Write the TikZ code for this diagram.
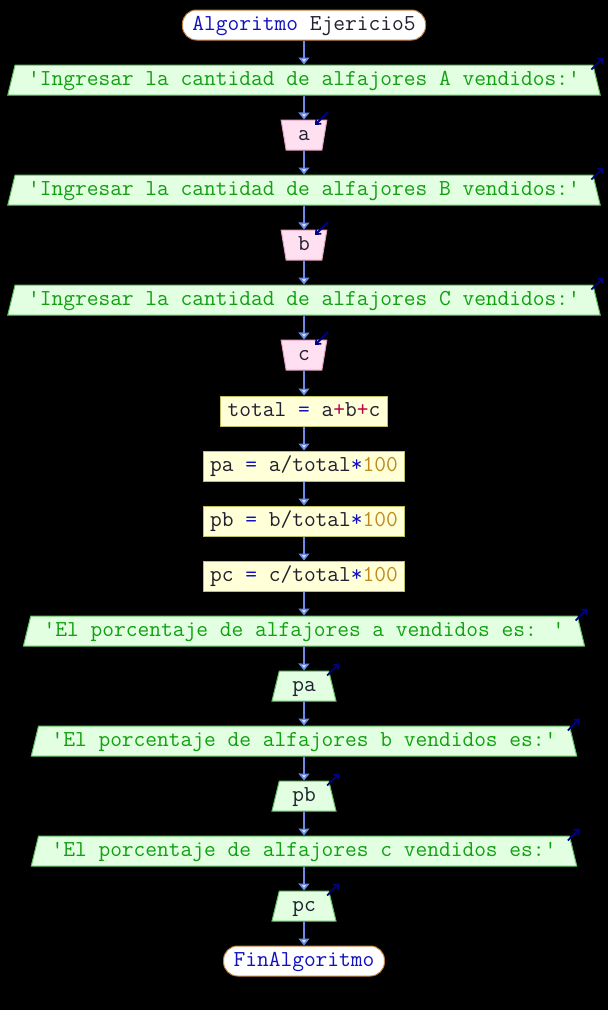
\documentclass[tikz,border=0pt]{standalone}
\usepackage{fontspec}
\usetikzlibrary{arrows.meta,shapes.geometric}

\definecolor{flowcol}{HTML}{6A8CE6}
\definecolor{tipfill}{HTML}{D8E4FF}
\definecolor{kwblue}{HTML}{1010C0}
\definecolor{strgreen}{HTML}{10A010}
\definecolor{numcol}{HTML}{C08820}
\definecolor{outfill}{HTML}{E2FFE2}
\definecolor{outline}{HTML}{60C060}
\definecolor{infill}{HTML}{FFE0F0}
\definecolor{inline}{HTML}{E0A0C0}
\definecolor{procfill}{HTML}{FFFFD8}
\definecolor{procline}{HTML}{C0C060}
\definecolor{termline}{HTML}{C08040}
\definecolor{iddark}{HTML}{202030}
\definecolor{iocol}{HTML}{000080}

\tikzset{
  base/.style={font=\ttfamily\fontsize{22.8}{26}\selectfont,text=iddark,
    minimum height=30pt,inner ysep=0pt,text height=15pt,text depth=5pt,line width=1pt},
  term/.style={base,draw=termline,fill=white,rounded corners=14pt,inner xsep=10pt},
  outbox/.style={base,trapezium,trapezium stretches=true,trapezium left angle=70,
    trapezium right angle=70,draw=outline,fill=outfill,inner xsep=13pt},
  inbox/.style={base,trapezium,trapezium stretches=true,trapezium left angle=76,
    trapezium right angle=76,shape border rotate=180,draw=inline,fill=infill,inner xsep=12pt},
  proc/.style={base,draw=procline,fill=procfill,inner xsep=7pt},
  flow/.style={flowcol,line width=1.6pt,-{Triangle[width=11pt,length=7pt,fill=tipfill]}},
  iomark/.style={iocol,line width=1.8pt,-{Straight Barb[length=4pt,width=7pt]}}
}
\newcommand{\str}[1]{\textcolor{strgreen}{#1}}
\newcommand{\num}[1]{\textcolor{numcol}{#1}}
\newcommand{\kw}[1]{\textcolor{kwblue}{#1}}

\begin{document}
\begin{tikzpicture}[x=1pt,y=1pt]
  \fill[black] (0,0) rectangle (608,-1010);
  \useasboundingbox (0,0) rectangle (608,-1010);

  \node[term] (start) at (304,-25) {\kw{Algoritmo} Ejericio5};
  \node[outbox] (oA) at (304,-80) {\str{'Ingresar la cantidad de alfajores A vendidos:'}};
  \node[inbox] (ia) at (304,-135) {a};
  \node[outbox] (oB) at (304,-190) {\str{'Ingresar la cantidad de alfajores B vendidos:'}};
  \node[inbox] (ib) at (304,-245) {b};
  \node[outbox] (oC) at (304,-300) {\str{'Ingresar la cantidad de alfajores C vendidos:'}};
  \node[inbox] (ic) at (304,-355) {c};
  \node[proc] (total) at (304,-411) {total \kw{=} a\textcolor{purple}{+}b\textcolor{purple}{+}c};
  \node[proc] (pa) at (304,-466) {pa \kw{=} a/total\kw{*}\num{100}};
  \node[proc] (pb) at (304,-521) {pb \kw{=} b/total\kw{*}\num{100}};
  \node[proc] (pc) at (304,-576) {pc \kw{=} c/total\kw{*}\num{100}};
  \node[outbox] (msga) at (304,-631) {\str{'El porcentaje de alfajores a vendidos es: '}};
  \node[outbox] (opa) at (304,-686) {pa};
  \node[outbox] (msgb) at (304,-741) {\str{'El porcentaje de alfajores b vendidos es:'}};
  \node[outbox] (opb) at (304,-796) {pb};
  \node[outbox] (msgc) at (304,-851) {\str{'El porcentaje de alfajores c vendidos es:'}};
  \node[outbox] (opc) at (304,-906) {pc};
  \node[term] (fin) at (304,-961) {\kw{FinAlgoritmo}};

  % flow lines
  \foreach \a/\b in {start/oA,oA/ia,ia/oB,oB/ib,ib/oC,oC/ic,ic/total,total/pa,pa/pb,pb/pc,
      pc/msga,msga/opa,opa/msgb,msgb/opb,opb/msgc,msgc/opc,opc/fin}{
    \draw[flow] (\a) -- (\b);
  }
  % io marks
  \foreach \o in {oA,oB,oC,msga,opa,msgb,opb,msgc,opc}{
    \draw[iomark] ([shift={(-2,-5)}]\o.top right corner) -- ++(12,12);
  }
  \foreach \i in {ia,ib,ic}{
    \draw[iomark] ([shift={(24,23)}]\i.center) -- ++(-13,-13);
  }
\end{tikzpicture}
\end{document}
